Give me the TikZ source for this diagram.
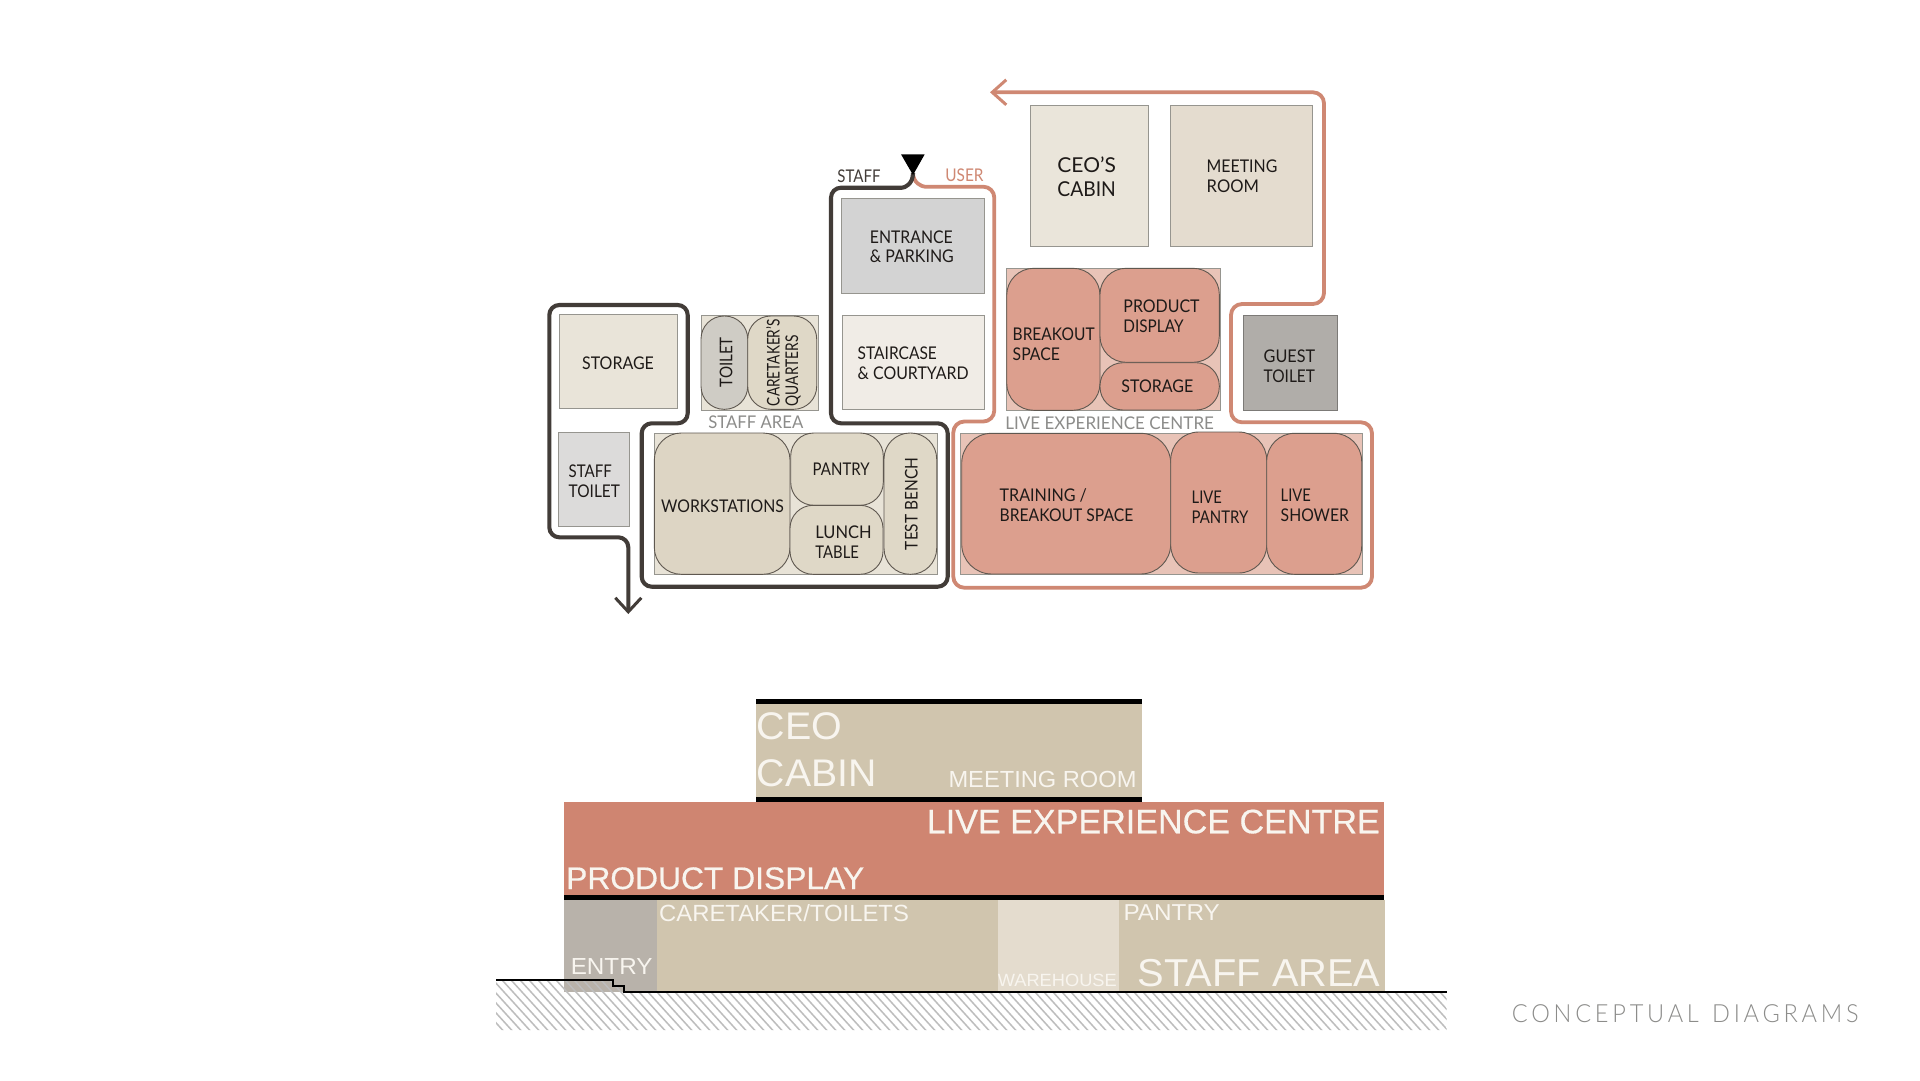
\documentclass[tikz,border=0pt]{standalone}
\usepackage{fontspec}
\usepackage{graphicx}
\usetikzlibrary{arrows.meta}
\setmainfont{Lato}
\newfontfamily\lightfont[LetterSpace=16,WordSpace=1.3]{Lato Light}
\newfontfamily\secfont{Liberation Sans}
\newfontfamily\secbold[FakeBold=0.5]{Liberation Sans}
\definecolor{staffline}{HTML}{423C38}
\definecolor{userline}{HTML}{CF8873}
\definecolor{edgegray}{HTML}{96958F}
\definecolor{roomedge}{HTML}{5F5850}
\definecolor{labelgray}{HTML}{8C8C8A}
\definecolor{ink}{HTML}{1E1A18}
\definecolor{secbeige}{HTML}{D0C5AE}
\definecolor{secred}{HTML}{CF8571}
\definecolor{secgray}{HTML}{B8B2AA}
\definecolor{secware}{HTML}{E4DCCE}
\definecolor{sectext}{HTML}{F8F5EF}
\definecolor{hatchgray}{HTML}{BDBDBD}
\definecolor{ceofill}{HTML}{EAE5DA}
\definecolor{meetfill}{HTML}{E4DCCF}
\definecolor{entfill}{HTML}{D3D3D3}
\definecolor{stairfill}{HTML}{F0ECE6}
\definecolor{stofill}{HTML}{E9E4D9}
\definecolor{stoilfill}{HTML}{DCDBDA}
\definecolor{guestfill}{HTML}{B0ADA9}
\definecolor{guestedge}{HTML}{7C7A77}
\definecolor{groupfill}{HTML}{E8E3D7}
\definecolor{toilfill}{HTML}{CFCCC5}
\definecolor{carefill}{HTML}{DFD8C7}
\definecolor{workfill}{HTML}{DDD5C4}
\definecolor{livegroup}{HTML}{E8C3B7}
\definecolor{liveroom}{HTML}{DC9F8E}
\tikzset{
  plainbox/.style={draw=edgegray,line width=1pt},
  roomshape/.style={draw=roomedge,line width=.9pt},
  lab/.style={anchor=base west,inner sep=0,outer sep=0,text=ink,xshift=-.6pt,font=\fontsize{17.5}{20}\selectfont},
  rotlab/.style={lab,rotate=90,xshift=.6pt,yshift=-.6pt},
  greylab/.style={lab,text=labelgray},
  sec/.style={anchor=base west,inner sep=0,outer sep=0,text=sectext,xshift=-1.5pt},
  secblock/.style={fill=#1,draw=none},
  staffroute/.style={draw=staffline,line width=4.1pt,rounded corners=10pt,line join=round},
  userroute/.style={draw=userline,line width=3.8pt,rounded corners=11pt,line join=round},
}
\newcommand\fitw[2]{\pgfmathsetmacro\fitwd{#1+1.2}\resizebox{\fitwd pt}{\height}{#2}}
\newcommand\fitsec[2]{\pgfmathsetmacro\fitwd{#1+3}\resizebox{\fitwd pt}{\height}{#2}}
\newcommand\twolines[5]{\vbox{\baselineskip=#5pt\lineskiplimit=-100pt\hbox{\fitw{#1}{#2}}\hbox{\fitw{#3}{#4}}}}
\newcommand\roombox[6]{\pgfmathsetmacro\mwd{#5-#3}\pgfmathsetmacro\mht{#6-#4}%
  \node[#2,minimum width=\mwd pt,minimum height=\mht pt,inner sep=0,outer sep=0] (#1) at ({(#3+#5)/2},{(#4+#6)/2}) {};}
\newcommand\seclab[6]{\node[sec,font=\secfont\fontsize{#4}{#4}\selectfont] (#1) at (#2,#3) {\fitsec{#5}{#6}};}
\newcommand\seclabbold[6]{\node[sec,font=\secbold\fontsize{#4}{#4}\selectfont] (#1) at (#2,#3) {\fitsec{#5}{#6}};}
\begin{document}
\begin{tikzpicture}[x=1pt,y=-1pt]
\useasboundingbox (0,0) rectangle (1920,1080);
\fill[white] (0,0) rectangle (1920,1080);

% ---- routes
\coordinate (door) at (913,173);
\coordinate (staffexit) at (628.3,614);
\coordinate (userexit) at (990,92.3);
\draw[userroute,-{Straight Barb[length=14pt,width=25pt,line width=3pt]}]
  (door) .. controls (913,183) and (922,186.7) .. (936,186.7) -- (994.3,186.7) -- (994.3,421.5) -- (953.3,421.5) -- (953.3,587.7) -- (1372,587.7) -- (1372,422.3) -- (1231,422.3) -- (1231,304) -- (1324,304) -- (1324,92.3) -- (userexit);
\draw[staffroute,-{Straight Barb[length=14pt,width=26pt,line width=3pt]}]
  (door) .. controls (913,184) and (905,187.7) .. (892,187.7) -- (831,187.7) -- (831,423.3) -- (947.7,423.3) -- (947.7,586.7) -- (641.7,586.7) -- (641.7,423.3) -- (687.7,423.3) -- (687.7,305) -- (549.3,305) -- (549.3,537.3) -- (628.3,537.3) -- (staffexit);
\fill[black] (901,154.3) -- (924.7,154.3) -- (913,175) -- cycle;

\node[greylab,text=staffline] (stafflabel) at (838,182) {\fitw{42}{STAFF}};
\node[greylab,text=userline] (userlabel) at (946,181) {\fitw{37}{USER}};

% ---- upper rooms
\roombox{ceo}{plainbox,fill=ceofill}{1030.3}{105}{1148}{246}
\roombox{meeting}{plainbox,fill=meetfill}{1170.7}{105}{1312.7}{246.7}
\roombox{entrance}{plainbox,fill=entfill}{841.7}{198.7}{984}{293.7}
\roombox{staircase}{plainbox,fill=stairfill}{842.3}{315.7}{984}{409.3}
\roombox{storagea}{plainbox,fill=stofill}{559.3}{314.3}{677.3}{408.3}
\roombox{stafftoilet}{plainbox,fill=stoilfill}{558.3}{432}{629.7}{526.3}
\roombox{guest}{draw=guestedge,line width=1pt,fill=guestfill}{1243}{315.3}{1337.3}{410.3}

\roombox{staffgroup}{plainbox,fill=groupfill}{701.7}{315.7}{818}{410.3}
\roombox{toiletroom}{roomshape,fill=toilfill,rounded corners=23pt}{701}{316}{747.7}{409.3}
\roombox{caretaker}{roomshape,fill=carefill,rounded corners=23pt}{747.7}{316}{816.7}{409.3}

\roombox{workgroup}{plainbox,fill=groupfill}{654}{433}{937}{574.3}
\roombox{workstations}{roomshape,fill=workfill,rounded corners=27pt}{654.3}{433}{790}{574.3}
\roombox{pantry}{roomshape,fill=carefill,rounded corners=23pt}{790.7}{433}{883.3}{505.3}
\roombox{lunch}{roomshape,fill=carefill,rounded corners=23pt}{790}{505.3}{883}{574.3}
\roombox{testbench}{roomshape,fill=carefill,rounded corners=26pt}{884}{433}{936.7}{574.3}

\roombox{livegroupa}{plainbox,fill=livegroup}{1006.7}{268.3}{1220}{410.3}
\roombox{breakout}{roomshape,fill=liveroom,rounded corners=27pt}{1006.7}{268.3}{1100}{410.3}
\roombox{product}{roomshape,fill=liveroom,rounded corners=26pt}{1100}{268.3}{1219.3}{362.3}
\roombox{storageb}{roomshape,fill=liveroom,rounded corners=23pt}{1100}{362.7}{1219.3}{410}

\roombox{livegroupb}{plainbox,fill=livegroup}{960.7}{433.3}{1362}{574.3}
\roombox{training}{roomshape,fill=liveroom,rounded corners=30pt}{961.7}{433.3}{1170.7}{574}
\roombox{livepantry}{roomshape,fill=liveroom,rounded corners=28pt}{1170.7}{432}{1266.7}{573}
\roombox{liveshower}{roomshape,fill=liveroom,rounded corners=28pt}{1266.7}{433.3}{1361.7}{574.3}

% ---- upper labels
\node[lab,font=\fontsize{20.5}{24}\selectfont] (ceot) at (1058,196) {\twolines{57.3}{CEO’S}{57.3}{CABIN}{24}};
\node[lab] (meett) at (1207.3,192.8) {\twolines{69.4}{MEETING}{51}{ROOM}{20.6}};
\node[lab] (entt) at (870.5,262.6) {\twolines{81.6}{ENTRANCE}{82.7}{\& PARKING}{19.6}};
\node[lab] (stairt) at (858.3,379.3) {\twolines{78}{STAIRCASE}{109.7}{\& COURTYARD}{20}};
\node[lab] (storat) at (582.7,369) {\fitw{70.6}{STORAGE}};
\node[lab] (stoilt) at (569.3,497.3) {\twolines{42}{STAFF}{50}{TOILET}{20}};
\node[greylab] (areat) at (709,428.3) {\fitw{93.7}{STAFF AREA}};
\node[rotlab] (toilt) at (732.3,388) {\fitw{49}{TOILET}};
\node[rotlab] (caret) at (798,406.7) {\twolines{85.7}{CARETAKER’S}{69.7}{QUARTERS}{18.3}};
\node[lab] (workt) at (661.7,512) {\fitw{121.6}{WORKSTATIONS}};
\node[lab] (pantt) at (813.3,475.7) {\fitw{55.7}{PANTRY}};
\node[lab] (luncht) at (816,558.3) {\twolines{55}{LUNCH}{42.3}{TABLE}{20}};
\node[rotlab] (testt) at (917.7,550.7) {\fitw{91}{TEST BENCH}};
\node[lab] (prodt) at (1124,332.7) {\twolines{75}{PRODUCT}{59}{DISPLAY}{20}};
\node[lab] (breakt) at (1013.3,360) {\twolines{80.7}{BREAKOUT}{46}{SPACE}{20}};
\node[lab] (stobt) at (1122,392.7) {\fitw{70.7}{STORAGE}};
\node[lab] (guestt) at (1264.3,382.7) {\twolines{50.3}{GUEST}{50}{TOILET}{20.4}};
\node[greylab] (livet) at (1006,429) {\fitw{207.3}{LIVE EXPERIENCE CENTRE}};
\node[lab] (traint) at (1000.3,521) {\twolines{86}{TRAINING /}{132.4}{BREAKOUT SPACE}{20}};
\node[lab] (lpant) at (1192.3,523) {\twolines{29}{LIVE}{55.4}{PANTRY}{20}};
\node[lab] (lshot) at (1281.3,521.7) {\twolines{29}{LIVE}{67}{SHOWER}{20}};

% ---- section
\fill[black] (756,699) rectangle (1141.7,704.3);
\roombox{seccabin}{secblock=secbeige}{756}{704.3}{1141.7}{797}
\fill[black] (756,797) rectangle (1141.7,802);
\roombox{seclive}{secblock=secred}{564}{802}{1384.3}{894.7}
\fill[black] (564,894.7) rectangle (1384.3,900);
\roombox{secentry}{secblock=secgray}{564}{900}{656.7}{991.7}
\roombox{seccare}{secblock=secbeige}{656.7}{900}{997.7}{991.7}
\roombox{secwarehouse}{secblock=secware}{997.7}{900}{1119}{991.7}
\roombox{secstaff}{secblock=secbeige}{1119}{900}{1385}{991.7}

\begin{scope}
\clip (496,980) -- (612.7,980) -- (612.7,985.7) -- (624.3,985.7) -- (624.3,992.3) -- (1446.7,992.3) -- (1446.7,1030) -- (496,1030) -- cycle;
\foreach \i in {0,...,110} {
  \draw[hatchgray,line width=1.5pt] ({430+\i*9},970) -- ({430+\i*9+60},1036);
}
\end{scope}
\draw[black,line width=1.8pt] (496,980) -- (612.7,980) -- (612.7,985.7) -- (624.3,985.7) -- (624.3,992.3) -- (1446.7,992.3);

\seclab{cabina}{758.3}{739.3}{38.5}{82.4}{CEO}
\seclab{cabinb}{758.3}{786.7}{38.5}{116.7}{CABIN}
\seclab{meetb}{950}{787.3}{23.3}{185}{MEETING ROOM}
\seclabbold{livesec}{928.3}{833.3}{34}{450}{LIVE EXPERIENCE CENTRE}
\seclabbold{prodsec}{567.7}{889}{31.2}{295}{PRODUCT DISPLAY}
\seclab{caresec}{660.7}{921.7}{23.4}{246.7}{CARETAKER/TOILETS}
\seclab{entrysec}{572.3}{974.3}{23.2}{78.7}{ENTRY}
\seclab{waresec}{999.3}{986}{17.7}{116}{WAREHOUSE}
\seclab{pantsec}{1125}{920.7}{23}{93.3}{PANTRY}
\seclab{staffsec}{1139.3}{986.7}{38.9}{239.7}{STAFF AREA}

\node[anchor=base west,inner sep=0,text=labelgray,font=\lightfont\fontsize{25}{25}\selectfont] (title) at (1511.7,1022.3) {\fitw{345.5}{CONCEPTUAL DIAGRAMS}};
\end{tikzpicture}
\end{document}
